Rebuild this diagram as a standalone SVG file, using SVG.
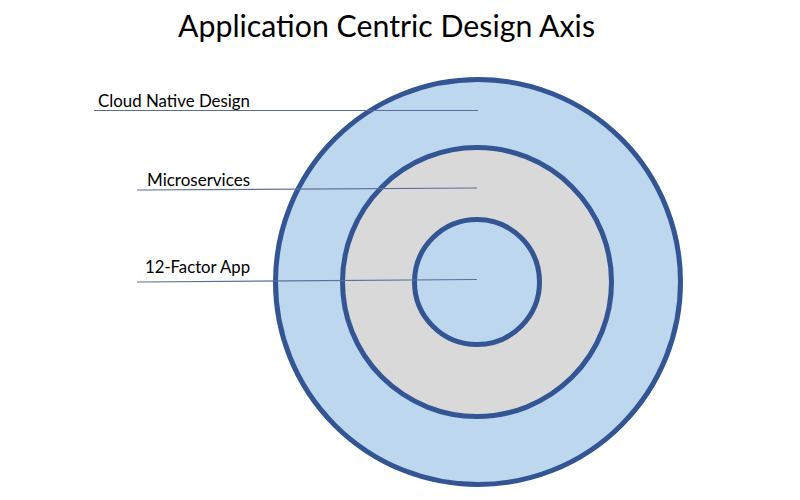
<svg xmlns="http://www.w3.org/2000/svg" width="800" height="500" viewBox="0 0 800 500">
<style>
.ring{stroke:#335593;stroke-width:5}
.lbl{font-family:Lato,"Liberation Sans",Arial,sans-serif;font-size:16.5px;fill:#000}
.title{font-family:Lato,"Liberation Sans",Arial,sans-serif;font-size:31px;fill:#000}
.lead{stroke:#5b6e99;stroke-width:1.2;fill:none}
</style>
<rect width="800" height="500" fill="#fff"/>
<text class="title" x="386.5" y="37" text-anchor="middle" textLength="417" lengthAdjust="spacingAndGlyphs">Application Centric Design Axis</text>
<g id="cloud-native">
<circle class="ring" cx="478" cy="282" r="202.5" fill="#bdd7ee"/>
</g>
<g id="microservices">
<circle class="ring" cx="477" cy="282" r="134.5" fill="#d9d9d9"/>
</g>
<g id="twelve-factor">
<circle class="ring" cx="477" cy="282" r="62.5" fill="#bdd7ee"/>
</g>
<g id="connectors">
<line class="lead" x1="94" y1="110.5" x2="478" y2="110.5"/>
<line class="lead" x1="137" y1="190" x2="477" y2="188"/>
<line class="lead" x1="137" y1="282" x2="477" y2="279.5"/>
</g>
<g id="labels">
<text class="lbl" x="98" y="106.5" textLength="152" lengthAdjust="spacingAndGlyphs">Cloud Native Design</text>
<text class="lbl" x="147" y="185.5" textLength="103" lengthAdjust="spacingAndGlyphs">Microservices</text>
<text class="lbl" x="145" y="273" textLength="105" lengthAdjust="spacingAndGlyphs">12-Factor App</text>
</g>
</svg>
